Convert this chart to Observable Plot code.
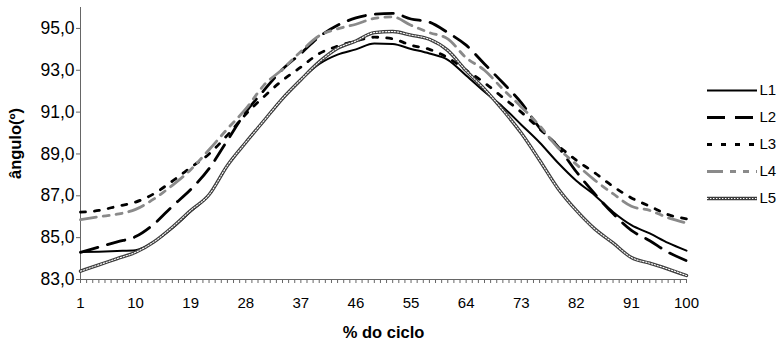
<!DOCTYPE html>
<html><head><meta charset="utf-8">
<script src="https://cdn.jsdelivr.net/npm/d3@7"></script>
<script src="https://cdn.jsdelivr.net/npm/@observablehq/plot@0.6"></script>
<style>
body{margin:0;background:#fff;}
#wrap{position:relative;width:779px;height:343px;overflow:hidden;}
#legend{position:absolute;left:707px;top:79px;}
</style></head><body><div id="wrap"></div>
<script>
// % do ciclo (sampled every 3 points)
const cycle = [1,4,7,10,13,16,19,22,25,28,31,34,37,40,43,46,49,52,55,58,61,64,67,70,73,76,79,82,85,88,91,94,97,100];
const seriesNames = ["L1","L2","L3","L4","L5"];
const L1 = [84.31,84.33,84.36,84.40,84.80,85.45,86.25,87.05,88.45,89.55,90.60,91.65,92.55,93.30,93.75,94.00,94.28,94.25,94.02,93.80,93.50,92.75,91.97,91.25,90.40,89.55,88.58,87.72,87.03,86.23,85.60,85.20,84.75,84.38];
const L2 = [84.30,84.55,84.80,85.05,85.65,86.50,87.30,88.30,89.65,91.00,92.05,93.05,93.80,94.60,95.15,95.50,95.68,95.72,95.45,95.30,94.80,94.20,93.30,92.40,91.45,90.25,89.35,88.15,87.10,86.15,85.35,84.85,84.30,83.90];
const L3 = [86.22,86.30,86.50,86.70,87.10,87.70,88.35,89.00,89.90,90.90,91.75,92.52,93.15,93.80,94.15,94.40,94.58,94.50,94.20,94.00,93.60,93.00,92.40,91.70,91.00,90.20,89.40,88.70,88.10,87.45,86.90,86.50,86.10,85.90];
const L4 = [85.86,86.00,86.12,86.35,86.85,87.50,88.25,89.20,90.20,91.15,92.30,93.05,93.90,94.65,94.98,95.20,95.48,95.55,95.15,94.80,94.50,93.60,93.00,92.10,91.25,90.35,89.30,88.50,87.75,87.10,86.50,86.30,85.95,85.70];
const L5 = [83.40,83.70,84.00,84.30,84.80,85.50,86.30,87.05,88.45,89.55,90.60,91.65,92.55,93.40,94.05,94.40,94.80,94.85,94.68,94.48,93.95,92.98,92.10,91.10,90.00,88.70,87.35,86.30,85.42,84.75,84.05,83.78,83.50,83.19];
const yTicks = [83,85,87,89,91,93,95];
const xTickLabels = [1,10,19,28,37,46,55,64,73,82,91,100];
const xMinorTicks = d3.range(1, 101);

const values = [L1, L2, L3, L4, L5];
const rows = [];
seriesNames.forEach((s, i) => values[i].forEach((v, j) => rows.push({cycle: cycle[j], angle: v, series: s})));

const styles = {
  L1: [{stroke: "#000", strokeWidth: 2}],
  L2: [{stroke: "#000", strokeWidth: 2.8, strokeDasharray: "18,10"}],
  L3: [{stroke: "#000", strokeWidth: 2.8, strokeDasharray: "5,9"}],
  L4: [{stroke: "#8a8a8a", strokeWidth: 2.8, strokeDasharray: "16,7,6,7,6,7"}],
  L5: [{stroke: "#3c3c3c", strokeWidth: 3.4}, {stroke: "#fff", strokeWidth: 1.1, strokeDasharray: "1.4,1.6"}]
};

const font = "'Liberation Sans', Arial, sans-serif";
const fmt = d => d.toFixed(1).replace(".", ",");

const lineMarks = [];
for (const s of seriesNames) {
  const data = rows.filter(r => r.series === s);
  for (const st of styles[s]) {
    lineMarks.push(Plot.line(data, {x: "cycle", y: "angle", curve: "monotone-x", strokeLinejoin: "round", ...st}));
  }
}

const chart = Plot.plot({
  width: 779, height: 343,
  marginLeft: 80, marginRight: 93, marginTop: 7, marginBottom: 64,
  x: {domain: [1, 100], axis: null, label: null},
  y: {domain: [83, 96], axis: null, label: null},
  style: {fontFamily: font, fontSize: "15px", color: "#000", background: "#fff"},
  marks: [
    Plot.axisX(xMinorTicks, {tickSize: 4, tickFormat: () => "", stroke: "#666", label: null}),
    Plot.axisX(xTickLabels, {tickSize: 0, tickPadding: 18, fontSize: 15, fill: "#000", label: null}),
    Plot.axisY(yTicks, {tickSize: 4, tickPadding: 2, tickFormat: fmt, stroke: "#666", fill: "#000", fontSize: 17.5, label: null}),
    Plot.ruleY([83], {stroke: "#666"}),
    Plot.ruleX([1], {stroke: "#666"}),
    ...lineMarks,
    Plot.text(["ângulo(º)"], {text: d => d, frameAnchor: "left", textAnchor: "middle", lineAnchor: "middle", dx: -65, rotate: -90, fontWeight: "bold", fontSize: 16.5}),
    Plot.text(["% do ciclo"], {text: d => d, frameAnchor: "bottom", textAnchor: "middle", lineAnchor: "middle", dy: 53, fontWeight: "bold", fontSize: 16.5})
  ]
});

const legendMarks = [];
for (const s of seriesNames) {
  for (const st of styles[s]) {
    legendMarks.push(Plot.ruleY([s], {y: d => d, x1: 0, x2: 1, ...st}));
  }
}
legendMarks.push(Plot.text(seriesNames, {y: d => d, x: 1, text: d => d, textAnchor: "start", dx: 2, fontSize: 15}));

const legend = Plot.plot({
  width: 72, height: 130,
  marginLeft: 0, marginRight: 22, marginTop: 10, marginBottom: 10,
  x: {domain: [0, 1], axis: null},
  y: {type: "point", domain: seriesNames, padding: 0, axis: null},
  style: {fontFamily: font, fontSize: "15px", color: "#000", background: "transparent"},
  marks: legendMarks
});
legend.id = "legend";

const wrap = document.getElementById("wrap");
wrap.appendChild(chart);
wrap.appendChild(legend);
</script>
</body></html>
